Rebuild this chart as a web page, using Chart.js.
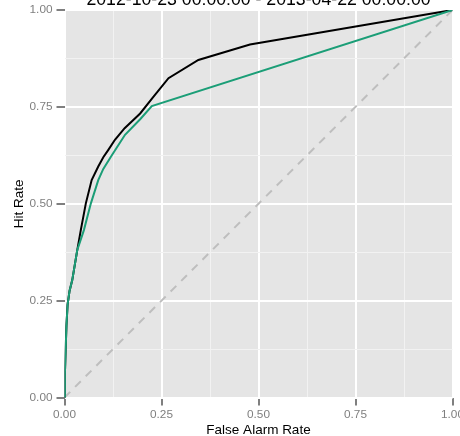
<!DOCTYPE html>
<html>
<head>
<meta charset="utf-8">
<script src="https://cdn.jsdelivr.net/npm/chart.js@4.4.0/dist/chart.umd.min.js"></script>
<style>
  html, body { margin: 0; padding: 0; background: #ffffff; }
  #wrap { width: 460px; height: 436px; position: relative; }
</style>
</head>
<body>
<div id="wrap"><canvas id="c" width="460" height="436"></canvas></div>
<script>
// ---- Data ----
const chartTitle = "2012-10-23 00:00:00 - 2013-04-22 00:00:00";
const xAxisTitle = "False Alarm Rate";
const yAxisTitle = "Hit Rate";

const blackFpr = [0, 0.001, 0.003, 0.005, 0.008, 0.013, 0.020, 0.033, 0.042, 0.055, 0.070, 0.087, 0.100, 0.113, 0.130, 0.155, 0.195, 0.229, 0.268, 0.345, 0.478, 1.0];
const blackTpr = [0, 0.060, 0.125, 0.185, 0.240, 0.275, 0.303, 0.381, 0.432, 0.501, 0.561, 0.596, 0.620, 0.639, 0.665, 0.695, 0.733, 0.776, 0.824, 0.871, 0.911, 1.0];

const greenFpr = [0, 0.001, 0.003, 0.005, 0.008, 0.013, 0.020, 0.033, 0.050, 0.068, 0.087, 0.100, 0.122, 0.156, 0.195, 0.225, 1.0];
const greenTpr = [0, 0.060, 0.125, 0.185, 0.240, 0.275, 0.303, 0.381, 0.432, 0.501, 0.561, 0.590, 0.625, 0.678, 0.718, 0.752, 1.0];

const diagX = [0, 1];
const diagY = [0, 1];

const tickValues = [0, 0.25, 0.5, 0.75, 1.0];
const gridValues = [0, 0.125, 0.25, 0.375, 0.5, 0.625, 0.75, 0.875, 1.0];

const toPoints = (xs, ys) => xs.map((x, i) => ({ x: x, y: ys[i] }));

// ---- Plugins ----
const panelBg = {
  id: 'panelBg',
  beforeDraw(chart) {
    const { ctx, chartArea: a } = chart;
    ctx.save();
    ctx.fillStyle = '#E5E5E5';
    ctx.fillRect(a.left, a.top, a.right - a.left, a.bottom - a.top);
    ctx.restore();
  }
};

const textLayer = {
  id: 'textLayer',
  afterDraw(chart) {
    const { ctx, chartArea: a } = chart;
    ctx.save();
    ctx.fillStyle = '#000000';
    ctx.textAlign = 'center';
    ctx.textBaseline = 'alphabetic';
    ctx.font = '17.7px "Liberation Sans", Arial, sans-serif';
    ctx.fillText(chartTitle, (a.left + a.right) / 2, 5);
    ctx.font = '13.5px "Liberation Sans", Arial, sans-serif';
    ctx.fillText(xAxisTitle, (a.left + a.right) / 2, 434);
    ctx.translate(23.3, (a.top + a.bottom) / 2);
    ctx.rotate(-Math.PI / 2);
    ctx.fillText(yAxisTitle, 0, 0);
    ctx.restore();
  }
};

const isMajor = v => Math.abs(v * 4 - Math.round(v * 4)) < 1e-6;
const tv = ctx => (ctx.tick ? ctx.tick.value : 0);

const gridOpts = {
  color: ctx => isMajor(tv(ctx)) ? '#FFFFFF' : '#F2F2F2',
  lineWidth: ctx => isMajor(tv(ctx)) ? 2 : 1,
  tickColor: ctx => isMajor(tv(ctx)) ? '#7F7F7F' : 'rgba(0,0,0,0)',
  tickWidth: 2,
  tickLength: 8,
  drawOnChartArea: true,
  drawTicks: true
};

const tickFont = { family: '"Liberation Sans", Arial, sans-serif', size: 11.8 };
const labelCb = v => tickValues.some(t => Math.abs(t - v) < 1e-6) ? v.toFixed(2) : '';

new Chart(document.getElementById('c'), {
  type: 'line',
  data: {
    datasets: [
      {
        label: 'chance',
        data: toPoints(diagX, diagY),
        borderColor: '#BEBEBE',
        borderWidth: 2,
        borderDash: [8, 7],
        pointRadius: 0,
        tension: 0,
        order: 3
      },
      {
        label: 'model A',
        data: toPoints(blackFpr, blackTpr),
        borderColor: '#000000',
        borderWidth: 2,
        pointRadius: 0,
        tension: 0,
        order: 2
      },
      {
        label: 'model B',
        data: toPoints(greenFpr, greenTpr),
        borderColor: '#1B9E77',
        borderWidth: 2,
        pointRadius: 0,
        tension: 0,
        order: 1
      }
    ]
  },
  options: {
    responsive: false,
    animation: false,
    devicePixelRatio: 1,
    layout: { padding: { top: 10, right: 7.5, left: 0, bottom: 0 } },
    plugins: {
      legend: { display: false },
      tooltip: { enabled: false },
      title: { display: false }
    },
    scales: {
      x: {
        type: 'linear',
        min: 0,
        max: 1,
        border: { display: false },
        grid: gridOpts,
        afterBuildTicks: s => { s.ticks = gridValues.map(v => ({ value: v })); },
        afterFit: s => { s.height = 38.5; s.paddingLeft = 0; s.paddingRight = 0; },
        ticks: {
          color: '#7F7F7F',
          font: tickFont,
          padding: 2,
          maxRotation: 0,
          autoSkip: false,
          callback: labelCb
        }
      },
      y: {
        type: 'linear',
        min: 0,
        max: 1,
        border: { display: false },
        grid: gridOpts,
        afterBuildTicks: s => { s.ticks = gridValues.map(v => ({ value: v })); },
        afterFit: s => { s.width = 64.5; s.paddingTop = 0; s.paddingBottom = 0; },
        ticks: {
          color: '#7F7F7F',
          font: tickFont,
          padding: 4,
          autoSkip: false,
          callback: labelCb
        }
      }
    }
  },
  plugins: [panelBg, textLayer]
});
</script>
</body>
</html>
